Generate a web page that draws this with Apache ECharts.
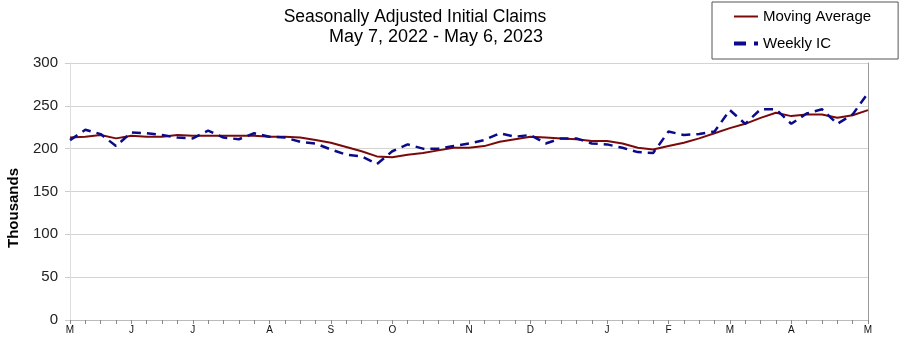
<!DOCTYPE html>
<html>
<head>
<meta charset="utf-8">
<script src="https://cdn.jsdelivr.net/npm/echarts@6/dist/echarts.min.js"></script>
<style>html,body{margin:0;padding:0;background:#fff}#c{width:904px;height:345px}</style>
</head>
<body>
<div id="c"></div>
<script>
const weeks = ['2022-05-07','2022-05-14','2022-05-21','2022-05-28','2022-06-04','2022-06-11','2022-06-18','2022-06-25',
'2022-07-02','2022-07-09','2022-07-16','2022-07-23','2022-07-30','2022-08-06','2022-08-13','2022-08-20','2022-08-27',
'2022-09-03','2022-09-10','2022-09-17','2022-09-24','2022-10-01','2022-10-08','2022-10-15','2022-10-22','2022-10-29',
'2022-11-05','2022-11-12','2022-11-19','2022-11-26','2022-12-03','2022-12-10','2022-12-17','2022-12-24','2022-12-31',
'2023-01-07','2023-01-14','2023-01-21','2023-01-28','2023-02-04','2023-02-11','2023-02-18','2023-02-25',
'2023-03-04','2023-03-11','2023-03-18','2023-03-25','2023-04-01','2023-04-08','2023-04-15','2023-04-22','2023-04-29','2023-05-06'];
const monthLetters = ['J','F','M','A','M','J','J','A','S','O','N','D'];
const movingAverage = [213,214,216,212,215,214,214,216,215,215,215,215,215,214,214,213,210,207,202,197,191,190,193,195,198,201,201,203,208,211,214,213,212,211,209,209,206,201,199,203,207,212,218,224,229,236,242,238,240,240,236,239,245];
const weeklyIC = [210,222,217,203,219,218,216,213,212,221,213,211,218,214,213,208,206,199,193,191,182,197,205,200,200,203,206,210,218,214,216,206,212,212,206,205,201,196,195,220,216,217,220,245,229,246,246,229,241,246,229,240,265];
const yTicks = {min:0, max:300, interval:50};

function isMonthStart(i){
  if(i===0 || i===weeks.length-1) return true;
  return weeks[i].slice(5,7) !== weeks[i-1].slice(5,7);
}
const chart = echarts.init(document.getElementById('c'));
chart.setOption({
  animation:false,
  textStyle:{fontFamily:'Liberation Sans, Arial, sans-serif'},
  title:[{
    text:'Seasonally Adjusted Initial Claims',
    left:410, top:3, textAlign:'center',
    textStyle:{fontSize:17.5,fontWeight:'normal',color:'#000'}
  },{
    text:'May 7, 2022 - May 6, 2023',
    left:431, top:23, textAlign:'center',
    textStyle:{fontSize:18,fontWeight:'normal',color:'#000'}
  }],
  legend:{
    orient:'vertical', left:712, top:2,
    padding:[7,27,8,22], itemGap:12,
    borderColor:'#555', borderWidth:1,
    itemWidth:24, itemHeight:14,
    textStyle:{fontSize:15,color:'#000'},
    data:[
      {name:'Moving Average', icon:'path://M0,6 L24,6 L24,8 L0,8 Z'},
      {name:'Weekly IC', icon:'path://M0,5.5 L9,5.5 L9,8.5 L0,8.5 Z M15,5.5 L18,5.5 L18,8.5 L15,8.5 Z'}
    ]
  },
  graphic:[{type:'text', left:6, top:168, rotation:Math.PI/2,
    style:{text:'Thousands', font:'bold 15px Liberation Sans, Arial, sans-serif', fill:'#000'}}],
  grid:{left:70,right:36,top:63,bottom:25},
  xAxis:{
    type:'category', data:weeks, boundaryGap:false,
    axisLine:{lineStyle:{color:'#bbb'}},
    axisTick:{show:true, interval:0, length:4, lineStyle:{color:'#888'}},
    axisLabel:{interval:function(i){return isMonthStart(i);}, formatter:function(v){return monthLetters[parseInt(v.slice(5,7),10)-1];},
      fontSize:10, color:'#111', margin:5},
    splitLine:{show:false}
  },
  yAxis:[{
    type:'value', min:yTicks.min, max:yTicks.max, interval:yTicks.interval,
    axisLine:{show:true,lineStyle:{color:'#ddd'}},
    axisTick:{show:true,length:5,lineStyle:{color:'#ccc'}},
    axisLabel:{fontSize:15,color:'#222',margin:12},
    splitLine:{lineStyle:{color:'#d4d4d4'}}
  },{
    type:'value', min:yTicks.min, max:yTicks.max, interval:yTicks.interval, position:'right',
    axisLine:{show:true,lineStyle:{color:'#999'}}, axisTick:{show:false}, axisLabel:{show:false}, splitLine:{show:false}
  }],
  series:[
    {name:'Moving Average', type:'line', data:movingAverage, symbol:'none', smooth:false,
      lineStyle:{color:'#7a0a0a', width:2}, itemStyle:{color:'#7a0a0a'}},
    {name:'Weekly IC', type:'line', data:weeklyIC, symbol:'none',
      lineStyle:{color:'#0a0a8a', width:2.5, type:[9,6]}, itemStyle:{color:'#0a0a8a'}}
  ]
});
</script>
</body>
</html>
